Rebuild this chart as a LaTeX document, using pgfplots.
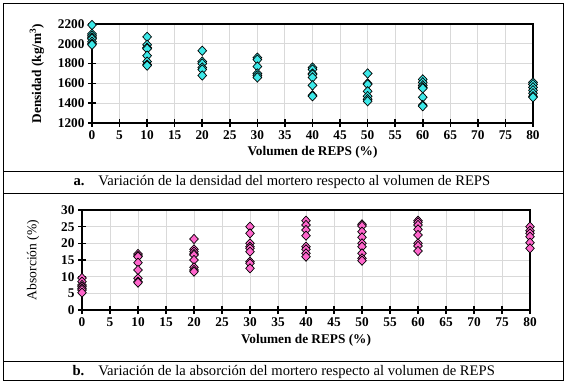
\documentclass[border=0pt]{standalone}
\usepackage{pgfplots}
\pgfplotsset{compat=1.18}
\usepackage{fontspec}
\setmainfont{Liberation Serif}
\definecolor{cyanm}{RGB}{60,232,232}
\definecolor{pinkm}{RGB}{255,102,204}
\definecolor{gridc}{RGB}{217,217,217}
\newcommand{\tfont}{\fontsize{13.3}{14}\selectfont\bfseries}
\pgfplotsset{
  myaxis/.style={
    scale only axis,
    anchor=south west,
    /pgf/number format/assume math mode=true,
    /pgf/number format/1000 sep={},
    axis line style={black, line width=2.6pt},
    tick pos=left,
    tick align=center,
    major tick length=8pt,
    tick style={black, line width=1.6pt},
    grid=major,
    major grid style={gridc, line width=0.9pt},
    xmin=0, xmax=80, xtick={0,5,...,80},
  }
}
\begin{document}
\begin{tikzpicture}[x=1pt,y=1pt]
\useasboundingbox (0,0) rectangle (567,383);
\draw[line width=0.9pt] (3,3) rectangle (563,380);
\draw[line width=0.9pt] (3,212) -- (563,212);
\draw[line width=0.9pt] (3,190) -- (563,190);
\draw[line width=0.9pt] (3,22) -- (563,22);
\node[anchor=west, font=\fontsize{14.6}{16}\selectfont] at (70,201) {\textbf{a.}\hspace{14pt}Variación de la densidad del mortero respecto al volumen de REPS};
\node[anchor=west, font=\fontsize{14.6}{16}\selectfont] at (69,11) {\textbf{b.}\hspace{14pt}Variación de la absorción del mortero respecto al volumen de REPS};

\begin{axis}[myaxis, at={(92pt,260pt)}, width=441pt, height=99pt,
  ymin=1200, ymax=2200, ytick={1200,1400,...,2200},
  x tick label style={font=\tfont},
  y tick label style={font=\tfont},
  xlabel={Volumen de REPS (\%)},
  ylabel={Densidad (kg/m\textsuperscript{3})},
  xlabel style={at={(axis description cs:0.5,-0.293)}, anchor=center, font=\tfont},
  ylabel style={at={(axis description cs:-0.125,0.5)}, anchor=center, font=\tfont},
]
\addplot[only marks, mark=diamond*, mark size=4.7pt, mark options={xscale=1.25, fill=cyanm, draw=black, line width=0.7pt}] coordinates {
(0,2190) (0,2100) (0,2080) (0,2060) (0,2050) (0,2020) (0,2000) (0,1990)
(10,2070) (10,1990) (10,1960) (10,1950) (10,1880) (10,1820) (10,1790) (10,1780)
(20,1930) (20,1820) (20,1800) (20,1760) (20,1740) (20,1680)
(30,1860) (30,1840) (30,1770) (30,1700) (30,1680) (30,1660)
(40,1760) (40,1740) (40,1700) (40,1690) (40,1660) (40,1580) (40,1480) (40,1470)
(50,1700) (50,1600) (50,1590) (50,1520) (50,1470) (50,1440) (50,1420)
(60,1640) (60,1610) (60,1580) (60,1560) (60,1550) (60,1460) (60,1380) (60,1370)
(80,1610) (80,1590) (80,1560) (80,1530) (80,1500) (80,1470) (80,1460)
};
\end{axis}

\begin{axis}[myaxis, at={(82pt,73pt)}, width=448pt, height=100pt,
  ymin=0, ymax=30, ytick={0,5,...,30},
  x tick label style={font=\tfont},
  y tick label style={font=\tfont},
  xlabel={Volumen de REPS (\%)},
  ylabel={Absorción (\%)},
  xlabel style={at={(axis description cs:0.5,-0.30)}, anchor=center, font=\tfont},
  ylabel style={at={(axis description cs:-0.109,0.5)}, anchor=center, font=\fontsize{13.6}{14}\selectfont},
]
\addplot[only marks, mark=diamond*, mark size=4.6pt, mark options={xscale=1.25, fill=pinkm, draw=black, line width=0.7pt}] coordinates {
(0,9.6) (0,8.5) (0,7.5) (0,7.0) (0,6.5) (0,6.0) (0,5.2)
(10,16.8) (10,16.2) (10,16) (10,14.2) (10,12) (10,9.5) (10,8.5) (10,8.2)
(20,21.3) (20,18.2) (20,17.5) (20,16.8) (20,16.5) (20,15) (20,12.8) (20,12) (20,11.5)
(30,25) (30,23) (30,20) (30,19) (30,18.5) (30,17.5) (30,14.5) (30,14) (30,12.5)
(40,26.8) (40,25.5) (40,24) (40,22.3) (40,19) (40,18.2) (40,17) (40,16)
(50,25.7) (50,25.2) (50,23.5) (50,21.8) (50,20) (50,19) (50,17) (50,15.5) (50,14.8)
(60,26.8) (60,26.3) (60,25.5) (60,24.2) (60,22.5) (60,20) (60,19.2) (60,17.7)
(80,25) (80,23.8) (80,23) (80,22) (80,20.2) (80,18.5)
};
\end{axis}
\end{tikzpicture}
\end{document}
